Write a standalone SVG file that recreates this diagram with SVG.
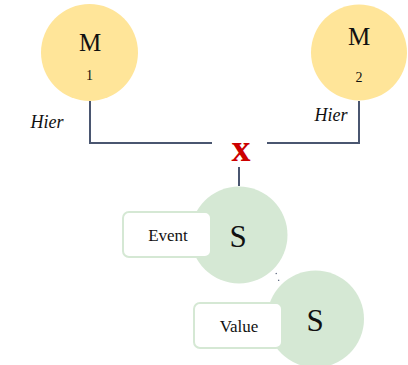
<svg xmlns="http://www.w3.org/2000/svg" width="408" height="365" viewBox="0 0 408 365">
<style>
.m{fill:#ffe599;}
.s{fill:#d5e8d4;}
.box{fill:#ffffff;stroke:#d5e8d4;stroke-width:2;}
.t{font-family:"Liberation Serif",serif;fill:#111;text-anchor:middle;}
.edge{fill:none;stroke:#4a5670;stroke-width:2;}
</style>
<rect width="408" height="365" fill="#ffffff"/>
<g id="connectors">
<path class="edge" d="M90,101 V143 H212"/>
<path class="edge" d="M359,101 V143 H267"/>
<path class="edge" d="M239,167 V186"/>
<path d="M276,273 L280,284" fill="none" stroke="#4a5670" stroke-width="1.2" stroke-dasharray="1.2,6"/>
<text x="241" y="161" class="t" style="font-size:38px;font-weight:bold;fill:#cc0000">x</text>
<text x="47" y="128" class="t" style="font-size:18px;font-style:italic">Hier</text>
<text x="331" y="121" class="t" style="font-size:18px;font-style:italic">Hier</text>
</g>
<g id="M1">
<circle class="m" cx="89.5" cy="52.5" r="48.5"/>
<text x="90" y="51" class="t" style="font-size:25px">M</text>
<text x="89.5" y="80" class="t" style="font-size:14px">1</text>
</g>
<g id="M2">
<circle class="m" cx="359" cy="52.5" r="48"/>
<text x="359" y="45" class="t" style="font-size:25px">M</text>
<text x="359" y="82" class="t" style="font-size:14px">2</text>
</g>
<g id="S1">
<circle class="s" cx="239" cy="235" r="48.5"/>
<text x="238" y="247" class="t" style="font-size:31px">S</text>
</g>
<g id="Event">
<rect class="box" x="123" y="212" width="88" height="45" rx="6"/>
<text x="168" y="241" class="t" style="font-size:17px">Event</text>
</g>
<g id="S2">
<circle class="s" cx="315.5" cy="319" r="48.5"/>
<text x="315" y="331" class="t" style="font-size:31px">S</text>
</g>
<g id="Value">
<rect class="box" x="194" y="303" width="88" height="45" rx="6"/>
<text x="239" y="332" class="t" style="font-size:17px">Value</text>
</g>
</svg>
